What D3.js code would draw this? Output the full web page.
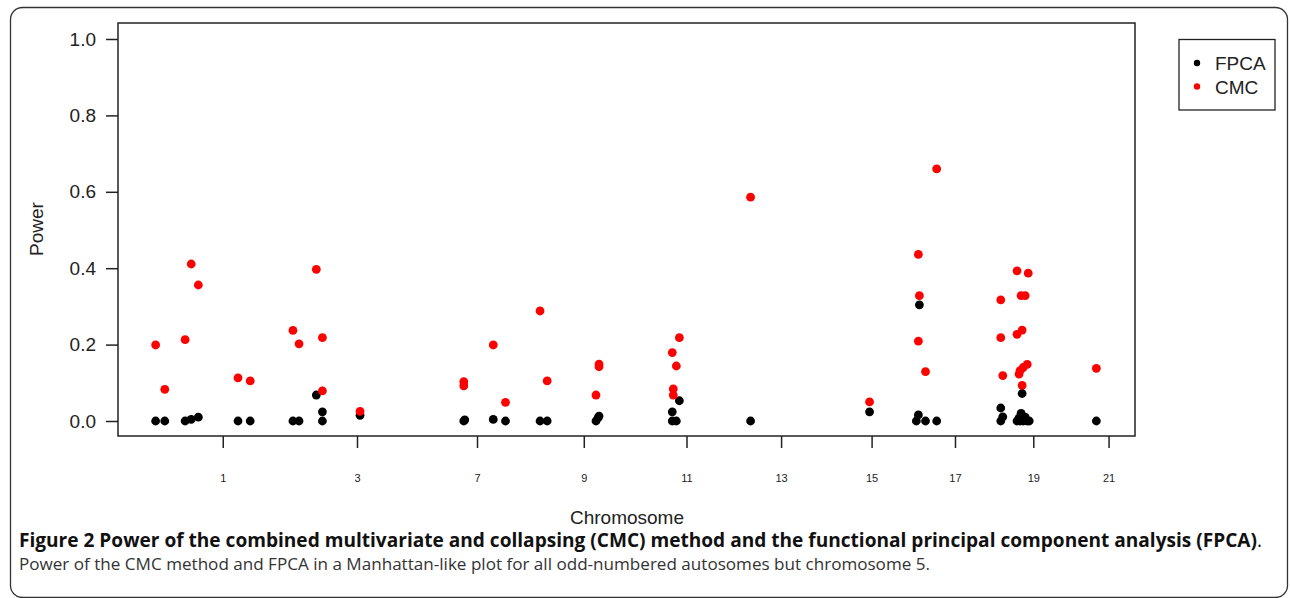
<!DOCTYPE html>
<html>
<head>
<meta charset="utf-8">
<script src="https://cdn.jsdelivr.net/npm/d3@7/dist/d3.min.js"></script>
<style>
  html, body { margin: 0; padding: 0; background: #fff; }
  svg { display: block; }
</style>
</head>
<body>
<svg id="chart" width="1290" height="598"></svg>
<script>
// ---- data (positions in cumulative genome units, 0..100) ----
const chromTickPos    = [10.3, 23.5, 35.3, 45.8, 55.9, 65.2, 74.1, 82.3, 90.0, 97.4];
const chromTickLabels = ["1", "3", "7", "9", "11", "13", "15", "17", "19", "21"];
const powerTicks      = [0, 0.2, 0.4, 0.6, 0.8, 1.0];

const fpcaPos   = [3.7, 4.6, 6.6, 7.2, 7.9, 11.8, 13.0, 17.2, 17.8, 19.5, 20.1, 20.1, 23.8,
                   34.0, 34.1, 36.9, 38.1, 41.5, 42.2, 47.0, 47.2, 47.3,
                   54.5, 54.5, 54.9, 55.2, 62.2, 73.9,
                   78.7, 78.5, 79.4, 80.5, 78.8,
                   86.8, 87.0, 86.8, 88.9, 88.8, 88.4, 88.7, 89.0, 89.4, 89.6, 88.6, 89.2, 96.2];
const fpcaPower = [0, 0, 0, 0.004, 0.010, 0, 0, 0, 0, 0.068, 0.024, 0, 0.015,
                   0, 0.003, 0.004, 0, 0, 0, 0, 0.008, 0.013,
                   0.024, 0, 0, 0.053, 0, 0.024,
                   0.016, 0, 0, 0, 0.304,
                   0.034, 0.011, 0, 0.072, 0.020, 0, 0, 0, 0, 0, 0.008, 0.010, 0];

const cmcPos    = [3.7, 4.6, 6.6, 7.2, 7.9, 11.8, 13.0, 17.2, 17.8, 19.5, 20.1, 20.1, 23.8,
                   34.0, 34.0, 36.9, 38.1, 41.5, 42.2, 47.0, 47.3, 47.3,
                   54.5, 54.6, 54.6, 54.9, 55.2, 62.2, 73.9,
                   78.7, 78.8, 78.7, 79.4, 80.5,
                   86.8, 86.8, 87.0, 88.4, 89.5, 88.8, 89.2, 88.4, 88.9, 89.4, 89.0, 88.7, 88.6, 88.9, 96.2];
const cmcPower  = [0.199, 0.083, 0.213, 0.411, 0.356, 0.113, 0.105, 0.237, 0.202, 0.397, 0.218, 0.079, 0.025,
                   0.103, 0.092, 0.199, 0.049, 0.288, 0.105, 0.068, 0.149, 0.142,
                   0.179, 0.084, 0.068, 0.144, 0.218, 0.586, 0.050,
                   0.436, 0.328, 0.209, 0.129, 0.660,
                   0.317, 0.218, 0.119, 0.393, 0.387, 0.328, 0.328, 0.227, 0.238, 0.148, 0.140, 0.132, 0.123, 0.093, 0.138];

const seriesNames  = ["FPCA", "CMC"];
const seriesColors = ["#000000", "#ff0000"];

const captionBold = "Figure 2 Power of the combined multivariate and collapsing (CMC) method and the functional principal component analysis (FPCA)";
const captionRest = "Power of the CMC method and FPCA in a Manhattan-like plot for all odd-numbered autosomes but chromosome 5.";

// ---- layout ----
const svg = d3.select("#chart");
const plot = { left: 118, right: 1135, top: 23, bottom: 436 };
const axisFont = "'Liberation Sans', Arial, Helvetica, sans-serif";
const ink = "#222";

const x = d3.scaleLinear().domain([0, 100]).range([plot.left, plot.right]);
const y = d3.scaleLinear().domain([0, 1]).range([421, 39]);

// outer rounded frame
svg.append("rect")
  .attr("x", 10.5).attr("y", 7.5).attr("width", 1277).attr("height", 590)
  .attr("rx", 12).attr("ry", 12)
  .attr("fill", "none").attr("stroke", "#333").attr("stroke-width", 1.3);

// plot box
svg.append("rect")
  .attr("x", plot.left).attr("y", plot.top)
  .attr("width", plot.right - plot.left).attr("height", plot.bottom - plot.top)
  .attr("fill", "none").attr("stroke", ink).attr("stroke-width", 1.5);

// y axis
const yAxis = svg.append("g")
  .attr("transform", `translate(${plot.left},0)`)
  .call(d3.axisLeft(y).tickValues(powerTicks).tickFormat(d3.format(".1f")).tickSize(12).tickPadding(10));
yAxis.select(".domain").remove();
yAxis.selectAll("line").attr("stroke", ink).attr("stroke-width", 1.5);
yAxis.selectAll("text").attr("font-family", axisFont).attr("font-size", 19).attr("fill", ink);

// x axis
const xAxis = svg.append("g")
  .attr("transform", `translate(0,${plot.bottom})`)
  .call(d3.axisBottom(x).tickValues(chromTickPos)
    .tickFormat((d, i) => chromTickLabels[i]).tickSize(12).tickPadding(26));
xAxis.select(".domain").remove();
xAxis.selectAll("line").attr("stroke", ink).attr("stroke-width", 1.5);
xAxis.selectAll("text").attr("font-family", axisFont).attr("font-size", 11).attr("fill", ink);

// axis titles
svg.append("text")
  .attr("transform", "translate(43,229) rotate(-90)")
  .attr("text-anchor", "middle")
  .attr("font-family", axisFont).attr("font-size", 19).attr("fill", ink)
  .text("Power");
svg.append("text")
  .attr("x", 627).attr("y", 524)
  .attr("text-anchor", "middle")
  .attr("font-family", axisFont).attr("font-size", 19).attr("fill", ink)
  .text("Chromosome");

// points
const r = 4.4;
const series = [
  { pos: fpcaPos, val: fpcaPower, color: seriesColors[0] },
  { pos: cmcPos,  val: cmcPower,  color: seriesColors[1] }
];
series.forEach(s => {
  svg.append("g").selectAll("circle")
    .data(s.pos.map((p, i) => [p, s.val[i]]))
    .join("circle")
    .attr("cx", d => x(d[0]))
    .attr("cy", d => y(d[1]))
    .attr("r", r)
    .attr("fill", s.color);
});

// legend
const lg = svg.append("g");
lg.append("rect")
  .attr("x", 1179).attr("y", 39.5).attr("width", 96).attr("height", 70.5)
  .attr("fill", "#fff").attr("stroke", ink).attr("stroke-width", 1.3);
seriesNames.forEach((name, i) => {
  lg.append("circle").attr("cx", 1197).attr("cy", 63 + i * 23.5).attr("r", 3.2).attr("fill", seriesColors[i]);
  lg.append("text").attr("x", 1215).attr("y", 70 + i * 23.5)
    .attr("font-family", axisFont).attr("font-size", 19).attr("fill", ink)
    .text(name);
});

// caption
const capFont = "'Open Sans', 'Noto Sans', sans-serif";
const c1 = svg.append("text").attr("x", 19).attr("y", 547)
  .attr("font-family", capFont).attr("font-size", 16).attr("fill", "#111");
c1.append("tspan").attr("font-weight", "bold").text(captionBold);
c1.append("tspan").text(".");
const c2 = svg.append("text").attr("x", 19).attr("y", 570)
  .attr("font-family", capFont).attr("font-size", 16).attr("fill", "#333")
  .text(captionRest);
// fit caption widths to the reference line lengths
const w1 = c1.node().getComputedTextLength();
c1.attr("font-size", 16 * 1244 / w1);
const w2 = c2.node().getComputedTextLength();
c2.attr("font-size", 16 * 912 / w2);
</script>
</body>
</html>
